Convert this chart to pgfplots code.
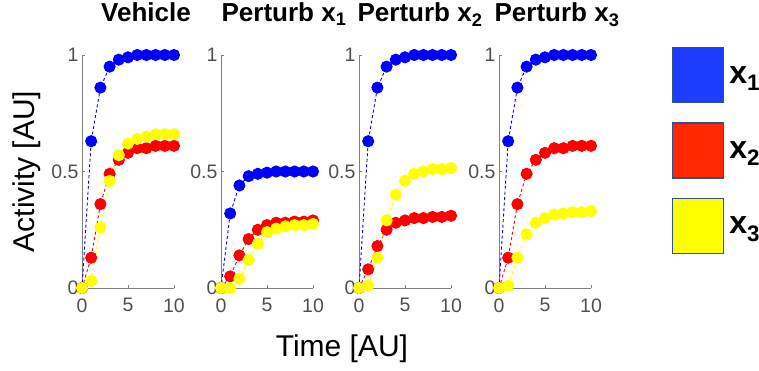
\documentclass[border=0pt]{standalone}
\usepackage{fontspec}
\setmainfont{Liberation Sans}
\usepackage{pgfplots}
\usepackage{pgfplotstable}
\pgfplotsset{compat=1.18}
\definecolor{axgray}{RGB}{128,128,128}
\definecolor{tlgray}{RGB}{80,80,80}
\definecolor{mblue}{RGB}{0,0,255}
\definecolor{mred}{RGB}{255,0,0}
\definecolor{myellow}{RGB}{255,255,0}
\definecolor{lgblue}{RGB}{30,60,255}
\definecolor{lgred}{RGB}{255,40,0}
\definecolor{lgyellow}{RGB}{255,255,0}
\definecolor{lgborder}{RGB}{47,82,143}

\pgfplotstableread{
t B R Y
0 0 0 0
1 0.63 0.13 0.03
2 0.86 0.36 0.26
3 0.95 0.49 0.46
4 0.98 0.55 0.57
5 0.99 0.58 0.62
6 1.00 0.60 0.64
7 1.00 0.60 0.65
8 1.00 0.61 0.66
9 1.00 0.61 0.66
10 1.00 0.61 0.66
}\vehicle

\pgfplotstableread{
t B R Y
0 0 0 0
1 0.32 0.05 0
2 0.44 0.14 0.04
3 0.48 0.21 0.12
4 0.49 0.25 0.19
5 0.495 0.27 0.24
6 0.50 0.28 0.255
7 0.50 0.28 0.265
8 0.50 0.285 0.27
9 0.50 0.285 0.27
10 0.50 0.29 0.275
}\pone

\pgfplotstableread{
t B R Y
0 0 0 0
1 0.63 0.08 0.01
2 0.86 0.18 0.13
3 0.95 0.25 0.29
4 0.98 0.28 0.40
5 0.99 0.29 0.46
6 1.00 0.30 0.49
7 1.00 0.30 0.50
8 1.00 0.305 0.51
9 1.00 0.305 0.51
10 1.00 0.31 0.515
}\ptwo

\pgfplotstableread{
t B R Y
0 0 0 0
1 0.63 0.13 0.01
2 0.86 0.36 0.13
3 0.95 0.49 0.23
4 0.98 0.55 0.28
5 0.99 0.58 0.30
6 1.00 0.60 0.315
7 1.00 0.60 0.32
8 1.00 0.61 0.325
9 1.00 0.61 0.325
10 1.00 0.61 0.33
}\pthree

\pgfplotsset{
  panel/.style={
    scale only axis, width=92pt, height=233pt,
    xmin=0, xmax=10, ymin=0, ymax=1,
    axis x line=bottom, axis y line=left,
    axis line style={draw=axgray, line width=0.9pt, -},
    xtick={0,5,10}, ytick={0,0.5,1},
    xticklabels={0,5,10}, yticklabels={0,0.5,1},
    tick align=inside, major tick length=3pt,
    tick style={draw=axgray, line width=0.8pt},
    ticklabel style={font=\fontsize{19.5}{20}\selectfont, text=tlgray},
    xticklabel style={yshift=-7pt},
    /pgf/number format/assume math mode=true,
    clip=false,
    anchor=south west,
    title style={font=\fontsize{26}{27}\selectfont\bfseries, anchor=base,
      at={(axis description cs:0.5,1)}, yshift=27pt},
  },
  ser/.style={color=#1, dash pattern=on 3pt off 2.5pt, line width=0.9pt,
    mark=*, mark size=5.6pt, mark options={solid, fill=#1, draw=none}},
}

\begin{document}
\begin{tikzpicture}
\useasboundingbox (0,0) rectangle (759pt,371pt);

\begin{axis}[panel, at={(82pt,83pt)},
  title={Vehicle}, title style={xshift=18pt},
  ylabel={Activity [AU]},
  ylabel style={font=\fontsize{30}{30}\selectfont, at={(axis description cs:-0.598,0.5)}, anchor=center}]
\addplot[ser=mblue, forget plot] table[x=t,y=B] {\vehicle};
\addplot[ser=mred, forget plot] table[x=t,y=R] {\vehicle};
\addplot[ser=myellow, forget plot] table[x=t,y=Y] {\vehicle};
\end{axis}

\begin{axis}[panel, at={(221pt,83pt)},
  title={Perturb x\textsubscript{1}}, title style={xshift=17pt},
  xlabel={Time [AU]},
  xlabel style={font=\fontsize{30}{30}\selectfont, at={(axis description cs:1.315,0)}, anchor=base, yshift=-69pt}]
\addplot[ser=mblue, forget plot] table[x=t,y=B] {\pone};
\addplot[ser=mred, forget plot] table[x=t,y=R] {\pone};
\addplot[ser=myellow, forget plot] table[x=t,y=Y] {\pone};
\end{axis}

\begin{axis}[panel, at={(359pt,83pt)},
  title={Perturb x\textsubscript{2}}, title style={xshift=15pt}]
\addplot[ser=mblue, forget plot] table[x=t,y=B] {\ptwo};
\addplot[ser=mred, forget plot] table[x=t,y=R] {\ptwo};
\addplot[ser=myellow, forget plot] table[x=t,y=Y] {\ptwo};
\end{axis}

\begin{axis}[panel, at={(499pt,83pt)},
  title={Perturb x\textsubscript{3}}, title style={xshift=12pt},
  legend style={at={(axis description cs:1.8804,1.0343)}, anchor=north west,
    draw=none, fill=none, inner sep=0pt, outer sep=0pt,
    row sep=19pt, column sep=5pt,
    nodes={inner sep=0pt},
    font=\fontsize{32}{32}\selectfont\bfseries},
  legend cell align=left]
\addplot[ser=mblue, forget plot] table[x=t,y=B] {\pthree};
\addplot[ser=mred, forget plot] table[x=t,y=R] {\pthree};
\addplot[ser=myellow, forget plot] table[x=t,y=Y] {\pthree};
\addlegendimage{legend image code/.code={\draw[draw=lgborder,line width=1.3pt,fill=lgblue] (0pt,-27pt) rectangle (51pt,28pt);}}
\addlegendentry{x\textsubscript{1}}
\addlegendimage{legend image code/.code={\draw[draw=lgborder,line width=1.3pt,fill=lgred] (0pt,-27pt) rectangle (51pt,28pt);}}
\addlegendentry{x\textsubscript{2}}
\addlegendimage{legend image code/.code={\draw[draw=lgborder,line width=1.3pt,fill=lgyellow] (0pt,-27pt) rectangle (51pt,28pt);}}
\addlegendentry{x\textsubscript{3}}
\end{axis}
\end{tikzpicture}
\end{document}
